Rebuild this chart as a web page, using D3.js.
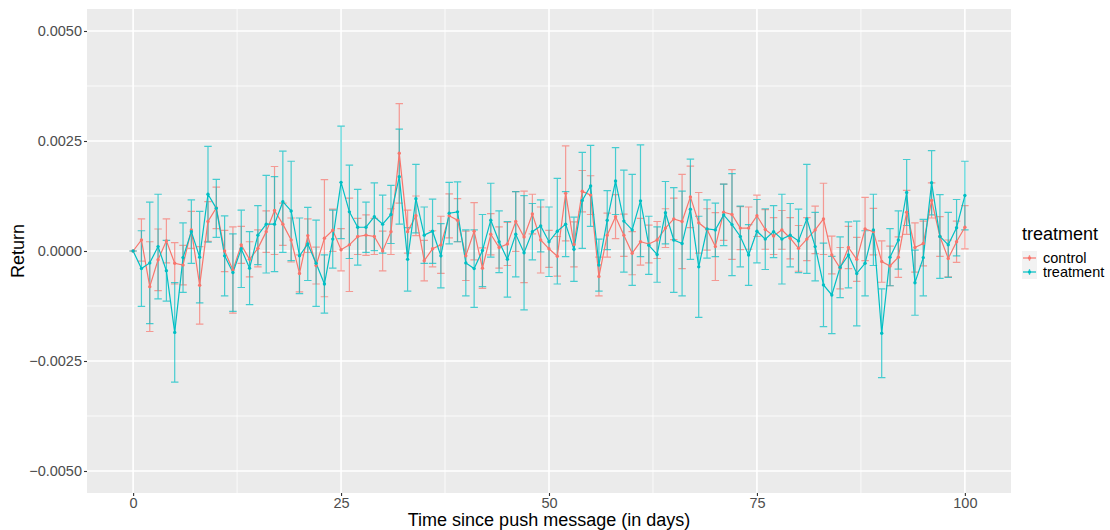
<!DOCTYPE html>
<html>
<head>
<meta charset="utf-8">
<script src="https://cdn.jsdelivr.net/npm/d3@7"></script>
<style>
  html, body { margin: 0; padding: 0; background: #ffffff; }
  svg { display: block; }
  text { font-family: "Liberation Sans", Arial, Helvetica, sans-serif; }
</style>
</head>
<body>
<svg id="chart" width="1110" height="530"></svg>
<script>
// ---------------- data ----------------
const days = d3.range(0, 101);
const seriesNames = ["control", "treatment"];
const seriesColors = ["#F8766D", "#00BFC4"];

const controlMean = [
  0, 2.5e-4, -8.1e-4, -2.0e-4, 2.3e-4, -2.8e-4, -3.2e-4, 4.8e-4, -7.8e-4, 6.7e-4,
  9.8e-4, 0, -4.3e-4, 1.4e-4, -1.9e-4, 0.6e-4, 4.4e-4, 9.2e-4, 6.1e-4, 2.5e-4,
  -5.1e-4, 3.5e-4, -3.3e-4, 2.9e-4, 4.7e-4, 0.3e-4, 1.4e-4, 3.3e-4, 3.6e-4, 3.3e-4,
  0, 4.4e-4, 22.2e-4, 4.4e-4, 8.0e-4, -2.2e-4, 0.5e-4, 1.4e-4, 8.0e-4, 7.0e-4,
  -1.1e-4, 4.5e-4, -3.9e-4, 3.8e-4, 0.8e-4, 1.6e-4, 6.7e-4, 3.2e-4, 8.4e-4, 2.5e-4,
  0.5e-4, -1.2e-4, 13.1e-4, 1.5e-4, 13.6e-4, 12.7e-4, -5.8e-4, 3.6e-4, 7.8e-4, 3.6e-4,
  -0.5e-4, 2.1e-4, 1.6e-4, 2.5e-4, 5.2e-4, 7.3e-4, 6.7e-4, 12.3e-4, 6.4e-4, 4.9e-4,
  1.0e-4, 8.8e-4, 8.3e-4, 5.2e-4, 5.2e-4, 8.0e-4, 4.9e-4, 3.4e-4, 4.8e-4, 2.9e-4,
  0.6e-4, 2.7e-4, 4.8e-4, 7.3e-4, -0.9e-4, -3.9e-4, 0.8e-4, -1.9e-4, 5.0e-4, 4.4e-4,
  -2.4e-4, -3.4e-4, -1.4e-4, 8.8e-4, 0.8e-4, 1.7e-4, 11.5e-4, 3.3e-4, -1.7e-4, 2.1e-4,
  5.4e-4
];
const controlSE = [
  0, 4.8e-4, 10.2e-4, 7.0e-4, 5.0e-4, 4.7e-4, 4.5e-4, 4.2e-4, 8.8e-4, 4.5e-4,
  4.7e-4, 4.7e-4, 9.8e-4, 4.2e-4, 4.0e-4, 4.2e-4, 4.7e-4, 10.0e-4, 4.8e-4, 5.0e-4,
  4.2e-4, 3.8e-4, 4.2e-4, 13.3e-4, 4.8e-4, 4.8e-4, 10.6e-4, 4.1e-4, 4.6e-4, 4.1e-4,
  4.5e-4, 5.2e-4, 11.3e-4, 4.9e-4, 4.5e-4, 4.6e-4, 4.1e-4, 6.5e-4, 5.0e-4, 4.9e-4,
  5.6e-4, 6.5e-4, 4.6e-4, 4.7e-4, 4.7e-4, 4.9e-4, 6.8e-4, 10.4e-4, 4.5e-4, 7.5e-4,
  4.2e-4, 4.5e-4, 10.8e-4, 5.1e-4, 4.7e-4, 4.4e-4, 4.4e-4, 5.0e-4, 5.0e-4, 4.8e-4,
  4.9e-4, 5.3e-4, 4.3e-4, 4.2e-4, 4.4e-4, 4.7e-4, 10.7e-4, 7.0e-4, 6.9e-4, 4.7e-4,
  7.7e-4, 6.4e-4, 10.2e-4, 4.9e-4, 4.8e-4, 4.7e-4, 4.5e-4, 4.2e-4, 4.4e-4, 4.7e-4,
  5.2e-4, 4.9e-4, 5.4e-4, 8.1e-4, 4.3e-4, 4.7e-4, 4.8e-4, 5.0e-4, 7.2e-4, 5.3e-4,
  4.7e-4, 4.5e-4, 4.6e-4, 5.0e-4, 5.6e-4, 5.1e-4, 4.0e-4, 4.5e-4, 4.2e-4, 4.7e-4,
  4.9e-4
];
const treatmentMean = [
  0, -4.0e-4, -2.7e-4, 1.0e-4, -4.5e-4, -18.5e-4, -1.5e-4, 4.4e-4, -1.4e-4, 12.9e-4,
  9.7e-4, -1.1e-4, -4.9e-4, 0.5e-4, -3.9e-4, 3.6e-4, 6.1e-4, 6.1e-4, 11.2e-4, 9.1e-4,
  -1.1e-4, 1.6e-4, -2.8e-4, -7.5e-4, 2.7e-4, 15.6e-4, 8.9e-4, 5.4e-4, 5.4e-4, 7.8e-4,
  6.1e-4, 8.3e-4, 16.9e-4, -1.9e-4, 11.9e-4, 3.6e-4, 4.5e-4, -1.1e-4, 8.6e-4, 8.9e-4,
  -2.7e-4, -4.0e-4, 0.1e-4, 7.0e-4, 2.1e-4, -1.9e-4, 3.8e-4, -0.4e-4, 4.4e-4, 5.7e-4,
  2.1e-4, 4.5e-4, 6.1e-4, 0.4e-4, 11.5e-4, 14.8e-4, -3.2e-4, 7.0e-4, 15.9e-4, 6.8e-4,
  4.8e-4, 11.4e-4, 1.3e-4, -0.8e-4, 8.7e-4, 2.5e-4, 1.7e-4, 9.5e-4, -3.6e-4, 5.0e-4,
  4.8e-4, 8.2e-4, 6.0e-4, 3.3e-4, -0.9e-4, 4.5e-4, 2.7e-4, 4.4e-4, 2.7e-4, 3.6e-4,
  2.3e-4, 7.3e-4, 1.0e-4, -7.7e-4, -10.0e-4, -3.7e-4, -0.9e-4, -5.1e-4, -2.8e-4, 4.8e-4,
  -18.7e-4, -1.4e-4, 2.5e-4, 13.3e-4, -7.2e-4, -1.5e-4, 15.5e-4, 3.3e-4, 1.4e-4, 5.3e-4,
  12.6e-4
];
const treatmentSE = [
  0, 8.6e-4, 13.8e-4, 11.9e-4, 6.9e-4, 11.3e-4, 7.9e-4, 7.2e-4, 10.4e-4, 10.9e-4,
  6.6e-4, 9.1e-4, 8.8e-4, 8.8e-4, 8.3e-4, 6.7e-4, 11.1e-4, 10.8e-4, 11.5e-4, 11.3e-4,
  8.6e-4, 8.3e-4, 9.8e-4, 6.6e-4, 6.6e-4, 12.8e-4, 10.6e-4, 8.6e-4, 5.7e-4, 7.7e-4,
  6.6e-4, 6.6e-4, 10.8e-4, 7.2e-4, 7.8e-4, 6.4e-4, 7.3e-4, 7.3e-4, 7.0e-4, 6.8e-4,
  7.5e-4, 8.8e-4, 8.2e-4, 8.4e-4, 7.0e-4, 8.6e-4, 9.7e-4, 13.0e-4, 6.4e-4, 5.9e-4,
  7.9e-4, 12.0e-4, 7.4e-4, 7.3e-4, 10.9e-4, 9.2e-4, 5.9e-4, 6.7e-4, 7.6e-4, 11.6e-4,
  12.6e-4, 12.7e-4, 6.6e-4, 6.3e-4, 7.1e-4, 11.9e-4, 11.9e-4, 11.4e-4, 11.5e-4, 6.6e-4,
  6.1e-4, 7.0e-4, 11.6e-4, 6.9e-4, 6.9e-4, 7.2e-4, 6.9e-4, 5.9e-4, 10.2e-4, 7.2e-4,
  7.2e-4, 12.4e-4, 7.8e-4, 9.5e-4, 8.8e-4, 6.9e-4, 7.5e-4, 11.9e-4, 7.4e-4, 8.1e-4,
  10.1e-4, 6.5e-4, 6.6e-4, 7.5e-4, 7.4e-4, 8.7e-4, 7.3e-4, 9.5e-4, 7.4e-4, 6.4e-4,
  7.8e-4
];

const xTicks = [0, 25, 50, 75, 100];
const xMinor = [12.5, 37.5, 62.5, 87.5];
const yTicks = [-0.005, -0.0025, 0, 0.0025, 0.005];
const yMinor = [-0.00375, -0.00125, 0.00125, 0.00375];

// ---------------- layout ----------------
const panel = { left: 87, right: 1011, top: 9, bottom: 493 };
const x = d3.scaleLinear().domain([-5.545, 105.545]).range([panel.left, panel.right]);
const y = d3.scaleLinear().domain([-0.0055, 0.0055]).range([panel.bottom, panel.top]);
const color = d3.scaleOrdinal().domain(seriesNames).range(seriesColors);

const series = [
  { name: "control", mean: controlMean, se: controlSE },
  { name: "treatment", mean: treatmentMean, se: treatmentSE }
].map(s => ({
  name: s.name,
  values: days.map((d, i) => ({ day: d, mean: s.mean[i], se: s.se[i] }))
}));

const svg = d3.select("#chart");

// panel background
svg.append("rect")
  .attr("x", panel.left).attr("y", panel.top)
  .attr("width", panel.right - panel.left).attr("height", panel.bottom - panel.top)
  .attr("fill", "#EBEBEB");

const grid = svg.append("g");
grid.selectAll(".ymin").data(yMinor).join("line")
  .attr("x1", panel.left).attr("x2", panel.right)
  .attr("y1", d => y(d)).attr("y2", d => y(d))
  .attr("stroke", "#ffffff").attr("stroke-width", 0.8);
grid.selectAll(".xmin").data(xMinor).join("line")
  .attr("y1", panel.top).attr("y2", panel.bottom)
  .attr("x1", d => x(d)).attr("x2", d => x(d))
  .attr("stroke", "#ffffff").attr("stroke-width", 0.8);
grid.selectAll(".ymaj").data(yTicks).join("line")
  .attr("x1", panel.left).attr("x2", panel.right)
  .attr("y1", d => y(d)).attr("y2", d => y(d))
  .attr("stroke", "#ffffff").attr("stroke-width", 1.6);
grid.selectAll(".xmaj").data(xTicks).join("line")
  .attr("y1", panel.top).attr("y2", panel.bottom)
  .attr("x1", d => x(d)).attr("x2", d => x(d))
  .attr("stroke", "#ffffff").attr("stroke-width", 1.6);

// error bars
const capHalf = 0.45;
const ebG = svg.append("g");
series.forEach(s => {
  const g = ebG.append("g")
    .attr("stroke", color(s.name)).attr("stroke-width", 1.2)
    .attr("stroke-opacity", 0.7).attr("fill", "none");
  g.selectAll("path").data(s.values).join("path")
    .attr("d", d => {
      const xl = x(d.day - capHalf), xr = x(d.day + capHalf), xc = x(d.day);
      const yt = y(d.mean + d.se), yb = y(d.mean - d.se);
      return `M${xl},${yt}H${xr}M${xc},${yt}V${yb}M${xl},${yb}H${xr}`;
    });
});

// lines
const line = d3.line().x(d => x(d.day)).y(d => y(d.mean));
series.forEach(s => {
  svg.append("path").datum(s.values)
    .attr("d", line).attr("fill", "none")
    .attr("stroke", color(s.name)).attr("stroke-width", 1.2);
});

// points
series.forEach(s => {
  svg.append("g").selectAll("circle").data(s.values).join("circle")
    .attr("cx", d => x(d.day)).attr("cy", d => y(d.mean))
    .attr("r", 1.7).attr("fill", color(s.name));
});

// axes
const xAxis = svg.append("g")
  .attr("transform", `translate(0,${panel.bottom})`)
  .call(d3.axisBottom(x).tickValues(xTicks).tickSize(3).tickPadding(2).tickFormat(d3.format("d")));
const yAxis = svg.append("g")
  .attr("transform", `translate(${panel.left},0)`)
  .call(d3.axisLeft(y).tickValues(yTicks).tickSize(3).tickPadding(2).tickFormat(d3.format(".4f")));
[xAxis, yAxis].forEach(a => {
  a.select(".domain").remove();
  a.selectAll(".tick line").attr("stroke", "#333333").attr("stroke-width", 1.1);
  a.selectAll(".tick text").attr("fill", "#4D4D4D")
    .style("font-size", "14.5px").style("font-family", "'Liberation Sans', Arial, sans-serif");
});

// axis titles
svg.append("text")
  .attr("x", (panel.left + panel.right) / 2).attr("y", 526)
  .attr("text-anchor", "middle").attr("fill", "#000")
  .style("font-size", "18px")
  .text("Time since push message (in days)");
svg.append("text")
  .attr("transform", `translate(24,${(panel.top + panel.bottom) / 2}) rotate(-90)`)
  .attr("text-anchor", "middle").attr("fill", "#000")
  .style("font-size", "18px")
  .text("Return");

// legend
const lg = svg.append("g");
lg.append("text").attr("x", 1022).attr("y", 240)
  .attr("fill", "#000").style("font-size", "18px").text("treatment");
seriesNames.forEach((n, i) => {
  const cy = 258 + i * 14;
  lg.append("rect").attr("x", 1022).attr("y", cy - 7).attr("width", 15).attr("height", 14)
    .attr("fill", "#F2F2F2");
  lg.append("line").attr("x1", 1029.5).attr("x2", 1029.5).attr("y1", cy - 3).attr("y2", cy + 3)
    .attr("stroke", color(n)).attr("stroke-opacity", 0.7).attr("stroke-width", 1.2);
  lg.append("line").attr("x1", 1023).attr("x2", 1036).attr("y1", cy).attr("y2", cy)
    .attr("stroke", color(n)).attr("stroke-width", 1.2);
  lg.append("circle").attr("cx", 1029.5).attr("cy", cy).attr("r", 1.7).attr("fill", color(n));
  lg.append("text").attr("x", 1043).attr("y", cy + 5)
    .attr("fill", "#000").style("font-size", "14.5px").text(n);
});
</script>
</body>
</html>
